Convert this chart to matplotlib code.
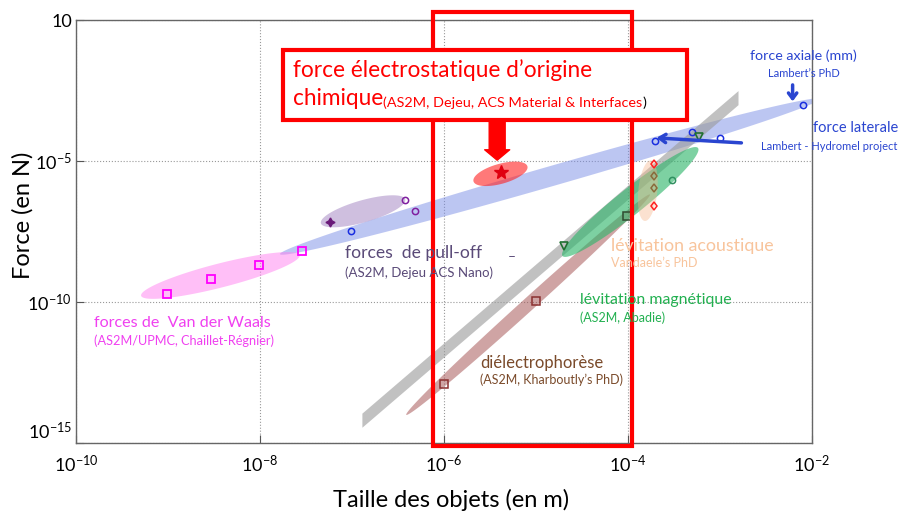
import numpy as np
import matplotlib
matplotlib.use('Agg')
import matplotlib.pyplot as plt
from matplotlib.patches import Polygon, Rectangle, FancyArrowPatch
from matplotlib.transforms import ScaledTranslation

plt.rcParams['font.family'] = ['Lato', 'DejaVu Sans']
plt.rcParams['mathtext.fontset'] = 'custom'
plt.rcParams['mathtext.rm'] = 'Lato'
plt.rcParams['mathtext.it'] = 'Lato:italic'
plt.rcParams['mathtext.bf'] = 'Lato:bold'

# ---- donnees (taille en m, force en N) ----
# forces de Van der Waals (carres magenta)
vdw_x = [9.7e-10, 2.9e-9, 9.7e-9, 2.9e-8]
vdw_y = [2.0e-10, 6.3e-10, 2.1e-9, 6.2e-9]
# forces capillaires / Lambert (cercles bleus)
cap_x = [9.8e-8, 2.0e-4, 5.0e-4, 1.0e-3, 8.0e-3]
cap_y = [3.3e-8, 5.1e-5, 1.05e-4, 6.5e-5, 1.0e-3]
# pull-off (violet)
pull_x = [3.8e-7, 4.9e-7]
pull_y = [4.0e-7, 1.7e-7]
pull_star_x = [5.8e-8]
pull_star_y = [6.9e-8]
# electrostatique chimique
chim_x = [4.2e-6]
chim_y = [4.0e-6]
# dielectrophorese
diel_x = [1.0e-6, 1.0e-5]
diel_y = [1.2e-13, 1.1e-10]
diel2_x = [9.7e-5]
diel2_y = [1.1e-7]
# levitation magnetique
mag_tri_x = [2.0e-5, 5.9e-4]
mag_tri_y = [1.0e-8, 6.9e-5]
mag_circ_x = [3.0e-4]
mag_circ_y = [2.2e-6]
# levitation acoustique (losanges)
ac_red_x = [1.95e-4, 1.95e-4]
ac_red_y = [7.9e-6, 2.5e-7]
ac_ol_x = [1.95e-4, 1.95e-4]
ac_ol_y = [2.9e-6, 1.07e-6]

# zones (extremites des ellipses)
zone_vdw = [(5.1e-10, 1.67e-10), (2.7e-8, 4.6e-9)]
zone_pull = [(4.6e-8, 6.2e-8), (3.8e-7, 4.4e-7)]
zone_chim = [(2.1e-6, 1.9e-6), (8.1e-6, 6.5e-6)]
zone_cap = [(1.65e-8, 5.0e-9), (1.22e-2, 1.58e-3)]
zone_mag = [(1.95e-5, 4.3e-9), (5.8e-4, 2.9e-5)]
zone_ac = [(1.53e-4, 7.5e-8), (1.78e-4, 1.04e-5)]
zone_diel = [(3.9e-7, 1.0e-14), (1.74e-4, 6.5e-7)]
# bande grise
gris_x = [1.3e-7, 1.6e-3]
gris_y = [6.2e-15, 1.7e-3]
gris_ep = 10 ** 0.25

fig = plt.figure(figsize=(9.03, 5.2), dpi=100)
ax = fig.add_axes([0.0842, 0.148, 0.8147, 0.8135])
ax.set_xscale('log')
ax.set_yscale('log')
ax.set_xlim(1e-10, 1e-2)
ax.set_ylim(1e-15, 1)


def lens(zone, largeur, couleur, alpha, z=2):
    a = ax.transData.transform(zone[0])
    b = ax.transData.transform(zone[1])
    c = (a + b) / 2
    u = (b - a) / 2
    n = np.array([-u[1], u[0]]) / np.hypot(*u) * largeur / 2
    t = np.linspace(0, 2 * np.pi, 200)
    pts = c + np.outer(np.cos(t), u) + np.outer(np.sin(t), n)
    ax.add_patch(Polygon(ax.transData.inverted().transform(pts), closed=True,
                         fc=couleur, ec='none', alpha=alpha, zorder=z))


lens(zone_cap, 20, '#7b8ee6', 0.5)
ax.add_patch(Polygon([(gris_x[0], gris_y[0] / gris_ep), (gris_x[1], gris_y[1] / gris_ep),
                      (gris_x[1], gris_y[1] * gris_ep), (gris_x[0], gris_y[0] * gris_ep)],
                     closed=True, fc='#999999', ec='none', alpha=0.6, zorder=2))
lens(zone_diel, 13, '#a85a5a', 0.55)
lens(zone_mag, 26, '#2db56a', 0.62)
lens(zone_ac, 19, '#f5b58a', 0.4)
lens(zone_vdw, 24, '#ff80f0', 0.5)
lens(zone_pull, 22, '#a080c0', 0.5)
lens(zone_chim, 20, '#ff2020', 0.6)

kw = dict(ls='none', mfc='none', clip_on=False, zorder=3)
ax.plot(vdw_x, vdw_y, 's', mec='#ff00ff', ms=5.5, mew=1.3, **kw)
ax.plot(cap_x, cap_y, 'o', mec='#1a2ee0', ms=4.5, mew=1.1, **kw)
ax.plot(pull_x, pull_y, 'o', mec='#8020a0', ms=4.5, mew=1.1, **kw)
ax.plot(pull_star_x, pull_star_y, marker=(4, 1, 0), ls='none', color='#6a1a78', ms=6.5, zorder=3)
ax.plot(chim_x, chim_y, '*', color='#e00010', ms=10, zorder=3)
ax.plot(diel_x, diel_y, 's', mec='#8b3030', ms=5.5, mew=1.1, **kw)
ax.plot(diel2_x, diel2_y, 's', mec='#304a30', ms=5.5, mew=1.1, **kw)
ax.plot(mag_tri_x, mag_tri_y, 'v', mec='#207030', ms=5.5, mew=1.2, **kw)
ax.plot(mag_circ_x, mag_circ_y, 'o', mec='#309060', ms=4.5, mew=1.1, **kw)
ax.plot(ac_red_x, ac_red_y, 'd', mec='#ff2020', ms=4.5, mew=1.1, **kw)
ax.plot(ac_ol_x, ac_ol_y, 'd', mec='#8a6a3a', ms=4.5, mew=1.1, **kw)

# axes
ax.set_xticks([1e-10, 1e-8, 1e-6, 1e-4, 1e-2])
ax.set_xticklabels([r'$10^{-10}$', r'$10^{-8}$', r'$10^{-6}$', r'$10^{-4}$', r'$10^{-2}$'])
ax.set_yticks([1e-15, 1e-10, 1e-5, 1])
ax.set_yticklabels([r'$10^{-15}$', r'$10^{-10}$', r'$10^{-5}$', '10'])
ax.minorticks_off()
ax.tick_params(direction='in', length=6, width=0.8, colors='#555555', labelcolor='black',
               labelsize=13)
ax.tick_params(axis='x', pad=8)
ax.tick_params(axis='y', pad=3)
ax.grid(True, ls=':', color='#999999', lw=0.8)
for s in ax.spines.values():
    s.set_color('#666666')
    s.set_linewidth(1)
lab = ax.get_yticklabels()[0]
lab.set_transform(lab.get_transform() + ScaledTranslation(0, 0.13, fig.dpi_scale_trans))

ax.text(-0.072, 0.539, 'Force (en N)', transform=ax.transAxes, rotation=90,
        ha='center', va='center', fontsize=17)
ax.text(0.51, -0.135, 'Taille des objets (en m)', transform=ax.transAxes,
        ha='center', va='center', fontsize=17)

# cadre rouge 1 µm - 100 µm
ax.add_patch(Rectangle((7.7e-7, 7.9e-16), 1.1e-4 - 7.7e-7, 1.9 - 7.9e-16, fill=False,
                       ec='red', lw=3, clip_on=False, zorder=4))
# encadre force electrostatique
ax.add_patch(Rectangle((0.281, 0.7636), 0.5495, 0.1655, transform=ax.transAxes,
                       fc='white', ec='red', lw=3, clip_on=False, zorder=5))
ax.text(0.295, 0.866, 'force électrostatique d’origine', transform=ax.transAxes,
        color='red', fontsize=16.3, va='baseline', zorder=6)
t1 = ax.text(0.295, 0.799, 'chimique', transform=ax.transAxes,
             color='red', fontsize=16.3, va='baseline', zorder=6)
t2 = ax.annotate('(AS2M, Dejeu, ACS Material & Interfaces', xy=(1, 0), xycoords=t1,
                 color='red', fontsize=10.4, va='bottom', zorder=6)
ax.annotate(')', xy=(1, 0), xycoords=t2, color='black', fontsize=10.4, va='bottom', zorder=6)
ax.add_patch(FancyArrowPatch((3.8e-6, 2.5e-4), (3.8e-6, 1.07e-5),
                             arrowstyle='simple,head_length=0.75,head_width=1.8,tail_width=1.15',
                             mutation_scale=10, color='red', shrinkA=0, shrinkB=0, zorder=6))

# annotations Lambert
bleu = '#2a45d0'
ax.text(0.989, 0.915, 'force axiale (mm)', transform=ax.transAxes, color=bleu,
        fontsize=10.3, ha='center', va='center')
ax.text(0.989, 0.873, 'Lambert’s PhD', transform=ax.transAxes, color=bleu,
        fontsize=8, ha='center', va='center')
ax.text(1.117, 0.745, 'force laterale', transform=ax.transAxes, color=bleu,
        fontsize=10.5, ha='right', va='center')
ax.text(1.117, 0.702, 'Lambert - Hydromel project', transform=ax.transAxes, color=bleu,
        fontsize=8, ha='right', va='center')
ax.annotate('', xy=(6.2e-3, 1.3e-3), xytext=(6.2e-3, 5.0e-3),
            arrowprops=dict(arrowstyle='->,head_length=0.4,head_width=0.3', color=bleu, lw=2.5,
                            shrinkA=0, shrinkB=0), zorder=6)
ax.annotate('', xy=(2.05e-4, 6.6e-5), xytext=(1.72e-3, 4.4e-5),
            arrowprops=dict(arrowstyle='->,head_length=0.45,head_width=0.3', color=bleu, lw=2.5,
                            shrinkA=0, shrinkB=0), zorder=6)

# etiquettes des zones
def etiquette(x, y, txt, c, fs):
    ax.text(x, y, txt, transform=ax.transAxes, color=c, fontsize=fs, va='center', zorder=6)

etiquette(0.0245, 0.2844, 'forces de  Van der Waals', '#f040f0', 11.6)
etiquette(0.0245, 0.2418, '(AS2M/UPMC, Chaillet-Régnier)', '#f040f0', 9.2)
etiquette(0.3656, 0.4485, 'forces  de pull-off', '#5a4a78', 12.6)
etiquette(0.3656, 0.4026, '(AS2M, Dejeu ACS Nano)', '#5a4a78', 9.5)
etiquette(0.5868, 0.4395, '–', '#5a4a78', 10)
etiquette(0.7272, 0.4657, 'lévitation acoustique', '#f8c49c', 12.8)
etiquette(0.7272, 0.4248, 'Vandaele’s PhD', '#f8c49c', 9)
etiquette(0.685, 0.338, 'lévitation magnétique', '#22b050', 11.4)
etiquette(0.685, 0.2955, '(AS2M, Abadie)', '#22b050', 9)
etiquette(0.549, 0.1898, 'diélectrophorèse', '#7a4a2a', 12)
etiquette(0.549, 0.149, '(AS2M, Kharboutly’s PhD)', '#7a4a2a', 9)

fig.savefig('out.png', dpi=100)
